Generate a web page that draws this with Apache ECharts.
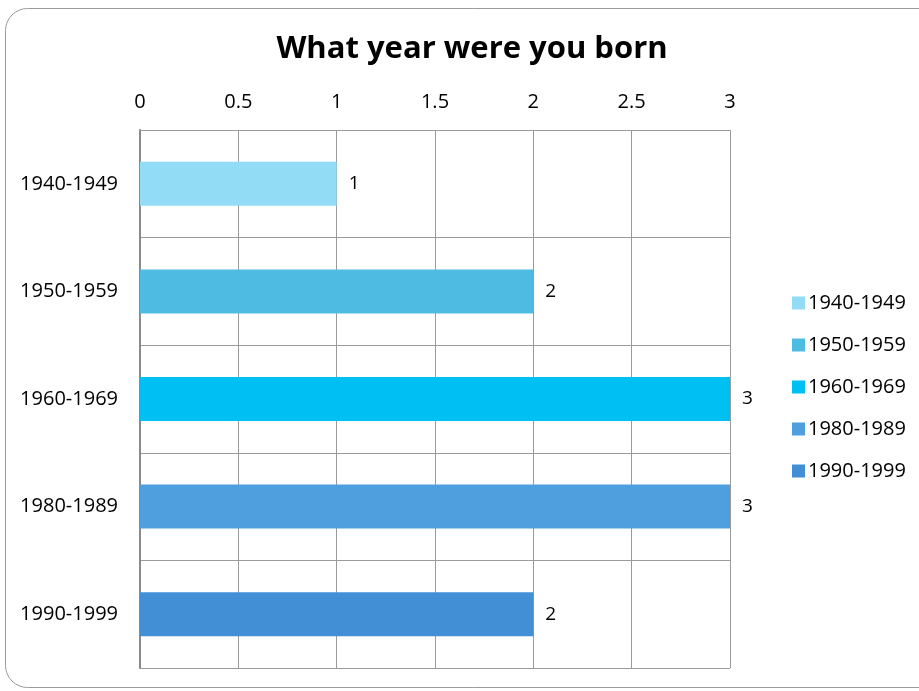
<!DOCTYPE html>
<html>
<head>
<meta charset="utf-8">
<style>
html,body{margin:0;padding:0;background:#fff;}
#c{width:919px;height:691px;}
</style>
<script src="https://cdn.jsdelivr.net/npm/echarts@6/dist/echarts.min.js"></script>
</head>
<body>
<div id="c"></div>
<script>
const categories = ['1940-1949','1950-1959','1960-1969','1980-1989','1990-1999'];
const values = [1, 2, 3, 3, 2];
const colors = ['#93DCF6','#4EBBE3','#00C0F3','#4F9FDE','#428FD5'];
const titleText = 'What year were you born';
const FONT = '"Open Sans", "Noto Sans", sans-serif';

const chart = echarts.init(document.getElementById('c'));
const series = categories.map((name, i) => ({
  name: name,
  type: 'bar',
  stack: 'all',
  barWidth: 44,
  itemStyle: { color: colors[i] },
  label: {
    show: true, position: 'right', distance: 12,
    color: '#000', fontSize: 19, fontFamily: FONT
  },
  data: categories.map((c, j) => j === i ? values[i] : null)
}));

chart.setOption({
  animation: false,
  title: {
    text: titleText, left: 467, top: 29, textAlign: 'center',
    textStyle: { fontSize: 31, fontWeight: 'bold', color: '#000', fontFamily: FONT }
  },
  graphic: [{
    type: 'rect', shape: { x: 5.5, y: 8.5, width: 940, height: 679, r: 22 },
    style: { fill: 'none', stroke: '#9a9a9a', lineWidth: 1 }, z: -1
  }],
  legend: {
    orient: 'vertical', left: 787, top: 288, itemWidth: 13, itemHeight: 13,
    itemGap: 22, icon: 'rect',
    textStyle: { fontSize: 20, lineHeight: 20, color: '#000', fontFamily: FONT, padding: [0,0,0,-2] },
    data: categories
  },
  grid: { left: 140, top: 130, width: 590, height: 538 },
  xAxis: {
    type: 'value', position: 'top', min: 0, max: 3, interval: 0.5,
    axisLine: { show: true, lineStyle: { color: '#9a9a9a' } },
    axisTick: { show: false },
    axisLabel: { color: '#000', fontSize: 20, fontFamily: FONT, margin: 18 },
    splitLine: { show: true, lineStyle: { color: '#9a9a9a', width: 1 } }
  },
  yAxis: {
    type: 'category', inverse: true, data: categories,
    axisLine: { show: true, lineStyle: { color: '#8a8a8a', width: 2 } },
    axisTick: { show: true, length: 0 },
    axisLabel: { color: '#000', fontSize: 20, fontFamily: FONT, margin: 22 },
    splitLine: { show: true, lineStyle: { color: '#9a9a9a', width: 1 } }
  },
  series: series
});
</script>
</body>
</html>
